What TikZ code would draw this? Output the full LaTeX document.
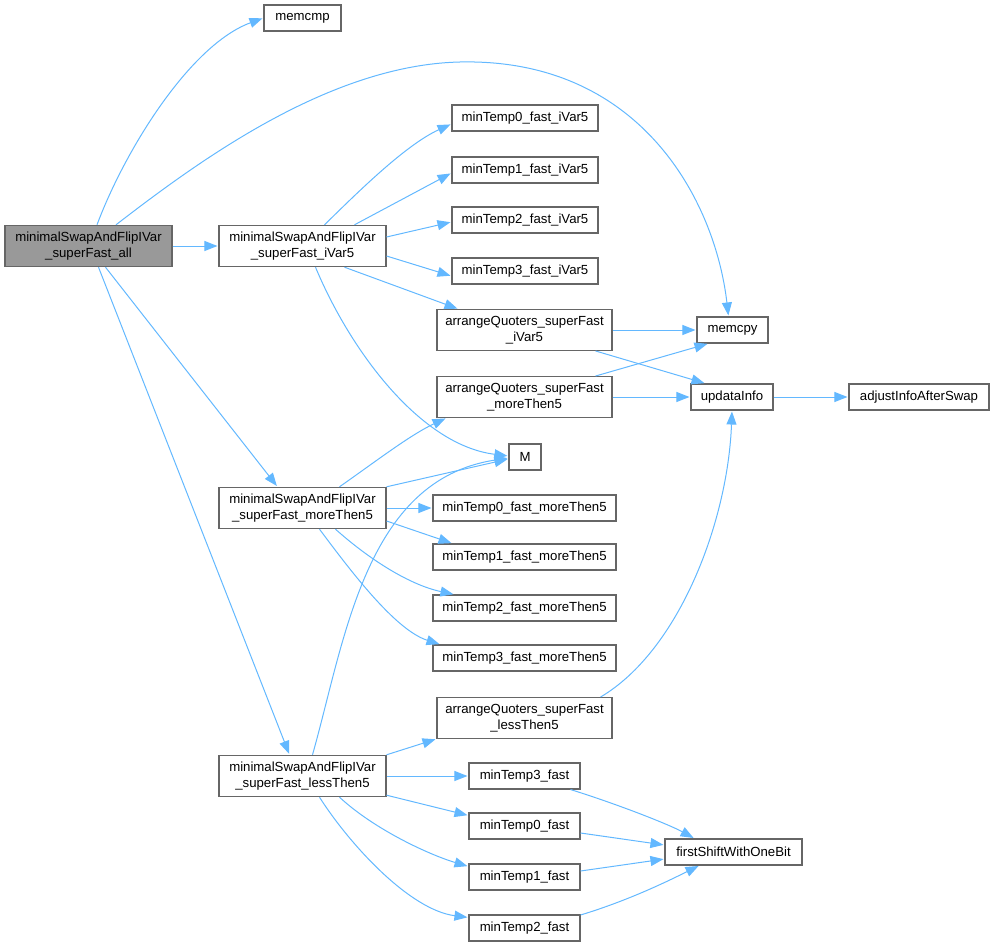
\documentclass[tikz,border=0pt]{standalone}
\usepackage{fontspec}
\setmainfont{Liberation Sans}
\usetikzlibrary{arrows.meta}
\definecolor{edgeblue}{HTML}{63B8FF}
\definecolor{boxgray}{HTML}{666666}
\definecolor{rootgray}{HTML}{999999}
\tikzset{
  fn/.style   = {draw=boxgray, line width=1.1pt, fill=white, rectangle,
                 align=center, inner xsep=2pt, inner ysep=6.5pt,
                 minimum height=26pt, font=\fontsize{13.2}{16}\selectfont},
  rootfn/.style = {fn, fill=rootgray},
  call/.style = {-{Triangle[length=13pt,width=10pt]}, draw=edgeblue,
                 line width=1pt, shorten >=1pt},
}
\begin{document}
\begin{tikzpicture}[x=1pt, y=-1pt]
\useasboundingbox (0,0) rectangle (994,947);
% left column
\node[rootfn, minimum width=167pt] (all) at (88.5,246)
  {minimalSwapAndFlipIVar\\\_superFast\_all};
% callee column
\node[fn, minimum width=77pt] (memcmp) at (302.5,18) {memcmp};
\node[fn, minimum width=167pt] (iv5) at (302.5,246)
  {minimalSwapAndFlipIVar\\\_superFast\_iVar5};
\node[fn, minimum width=167pt] (mt5) at (302.5,508)
  {minimalSwapAndFlipIVar\\\_superFast\_moreThen5};
\node[fn, minimum width=167pt] (lt5) at (302.5,776)
  {minimalSwapAndFlipIVar\\\_superFast\_lessThen5};
% helpers
\foreach \i/\y in {0/118,1/170,2/220,3/271}
  \node[fn, minimum width=146pt] (tv\i) at (525,\y) {minTemp\i\_fast\_iVar5};
\foreach \i/\y in {0/508,1/557,2/608,3/658}
  \node[fn, minimum width=183pt] (tm\i) at (524.5,\y) {minTemp\i\_fast\_moreThen5};
\foreach \i/\y in {3/776,0/826,1/877,2/928}
  \node[fn, minimum width=111pt] (tf\i) at (524.5,\y) {minTemp\i\_fast};
\node[fn, minimum width=175pt] (aqiv) at (524.5,330)
  {arrangeQuoters\_superFast\\\_iVar5};
\node[fn, minimum width=175pt] (aqmt) at (524.5,397)
  {arrangeQuoters\_superFast\\\_moreThen5};
\node[fn, minimum width=175pt] (aqlt) at (524.5,718)
  {arrangeQuoters\_superFast\\\_lessThen5};
\node[fn, minimum width=32pt] (M) at (525,457) {M};
\node[fn, minimum width=71pt] (memcpy) at (732.5,330) {memcpy};
\node[fn, minimum width=82pt] (upd) at (732,397) {updataInfo};
\node[fn, minimum width=140pt] (adj) at (919,397) {adjustInfoAfterSwap};
\node[fn, minimum width=137pt] (fsb) at (733.5,852) {firstShiftWithOneBit};

% calls of the root
\draw[call] ([xshift=8.5pt]all.north) .. controls (125,150) and (190,45) .. (memcmp.west);
\draw[call] ([xshift=27.5pt]all.north) .. controls (200,160) and (330,65) .. (460,62)
  .. controls (640,58) and (715,200) .. ([xshift=-4pt]memcpy.north);
\draw[call] (all) -- (iv5);
\draw[call] ([xshift=17pt]all.south) -- ([xshift=-25pt]mt5.north);
\draw[call] ([xshift=10pt]all.south) -- ([xshift=-13pt]lt5.north);

% iVar5
\draw[call] ([xshift=22pt]iv5.north) .. controls (355,195) and (405,145) .. ([yshift=-6pt]tv0.west);
\draw[call] ([xshift=52pt]iv5.north) -- ([yshift=-3pt]tv1.west);
\draw[call] ([yshift=9pt]iv5.east) -- ([yshift=-2pt]tv2.west);
\draw[call] ([yshift=-10pt]iv5.east) -- ([yshift=-5pt]tv3.west);
\draw[call] ([xshift=42pt]iv5.south) -- ([xshift=22pt]aqiv.north west);
\draw[call] ([xshift=13pt]iv5.south) .. controls (350,350) and (420,445) .. ([yshift=1pt]M.west);

% arrangeQuoters
\draw[call] (aqiv.east) -- (memcpy.west);
\draw[call] ([xshift=-17pt]aqiv.south east) -- ([xshift=15pt]upd.north west);
\draw[call] ([xshift=-17pt]aqmt.north east) -- ([xshift=12pt]memcpy.south west);
\draw[call] (aqmt) -- (upd);
\draw[call] ([xshift=-12pt]aqlt.north east) .. controls (680,650) and (728,520) .. (upd.south);
\draw[call] (upd) -- (adj);

% moreThen5
\draw[call] ([xshift=37pt]mt5.north) .. controls (375,462) and (410,435) .. ([xshift=10pt]aqmt.south west);
\draw[call] (mt5.north east) -- ([yshift=-2pt]M.west);
\draw[call] (mt5) -- (tm0);
\draw[call] ([yshift=-13pt]mt5.east) -- ([xshift=20pt]tm1.north west);
\draw[call] ([xshift=33pt]mt5.south) .. controls (370,560) and (410,585) .. ([xshift=22pt]tm2.north west);
\draw[call] ([xshift=17pt]mt5.south) .. controls (350,570) and (395,630) .. ([xshift=8pt]tm3.north west);

% lessThen5
\draw[call] ([xshift=10pt]lt5.north) .. controls (345,640) and (365,480) .. ([yshift=-1pt]M.west);
\draw[call] (lt5.north east) -- (aqlt.south west);
\draw[call] (lt5) -- (tf3);
\draw[call] ([yshift=2pt]lt5.south east) -- ([yshift=-3pt]tf0.north west);
\draw[call] ([xshift=37pt]lt5.south) .. controls (375,830) and (430,855) .. ([yshift=-3pt]tf1.north west);
\draw[call] ([xshift=17pt]lt5.south) .. controls (350,845) and (410,910) .. ([yshift=-3pt]tf2.north west);

% fast helpers
\draw[call] ([xshift=-10pt]tf3.south east) .. controls (620,805) and (670,825) .. ([xshift=30pt]fsb.north west);
\draw[call] ([yshift=-7pt]tf0.east) -- ([yshift=7pt]fsb.west);
\draw[call] ([yshift=6pt]tf1.east) -- ([yshift=-7pt]fsb.west);
\draw[call] ([yshift=13pt]tf2.east) .. controls (630,900) and (670,880) .. ([xshift=35pt]fsb.south west);
\end{tikzpicture}
\end{document}
